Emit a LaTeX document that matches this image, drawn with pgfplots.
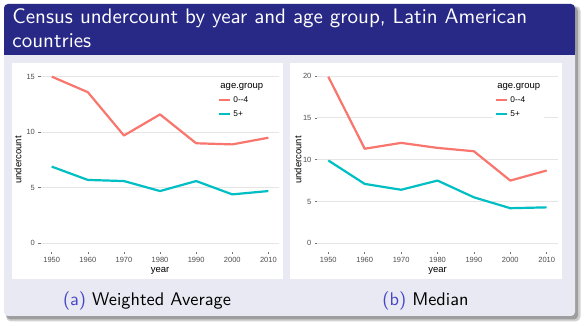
\documentclass[border=0pt]{standalone}
\usepackage{fontspec}
\usepackage{pgfplots}
\pgfplotsset{compat=1.18}
\newfontfamily\ggfont{Liberation Sans}
\newfontfamily\bsans{lmsans10-regular.otf}
\definecolor{titleblue}{RGB}{40,40,135}
\definecolor{bodybg}{RGB}{233,233,243}
\definecolor{capblue}{RGB}{70,70,200}
\definecolor{ggred}{HTML}{F8766D}
\definecolor{ggcyan}{HTML}{00BFC4}
\pgfplotsset{
  ggaxis/.style={
    scale only axis,
    axis lines*=left,
    axis line style={draw=none},
    xmin=1947, xmax=2013,
    xtick={1950,1960,1970,1980,1990,2000,2010},
    ymajorgrids,
    major grid style={color=black!10, line width=0.6pt},
    tick align=outside,
    major tick length=2.5pt,
    tick style={black!55, line width=0.5pt},
    ticklabel style={font=\ggfont\fontsize{7.5}{9}\selectfont, text=black!70},
    /pgf/number format/1000 sep={},
    /pgf/number format/assume math mode=true,
    xlabel={year}, ylabel={undercount},
    label style={font=\ggfont\fontsize{9.5}{11}\selectfont},
    x label style={at={(axis description cs:0.5,0)}, anchor=center, yshift=-19.5pt},
    legend cell align=left,
    legend image code/.code={\draw[#1] (0pt,0pt) -- (11pt,0pt);},
    legend style={draw=none, fill=white, inner sep=2pt, row sep=2.5pt,
      font=\ggfont\fontsize{8.3}{10}\selectfont, anchor=north west},
  },
  ggline/.style={line width=2.2pt, line join=round, mark=none},
}
\begin{document}
\begin{tikzpicture}[x=1pt,y=1pt]
\useasboundingbox (0,0) rectangle (584,326);
% shadow
\fill[black!18, rounded corners=5pt] (6,4.5) rectangle (580.5,320);
\fill[black!38, rounded corners=4pt] (6.5,6.5) rectangle (578,319);
% block body
\fill[bodybg, rounded corners=4pt] (4,10) rectangle (575,322);
% title bar
\fill[titleblue, rounded corners=4pt] (4,271) rectangle (575,322);
\fill[titleblue] (4,271) rectangle (575,278);
\node[anchor=base west, inner sep=0pt, text=white, font=\bsans\fontsize{21}{24}\selectfont] at (12.3,302) {Census undercount by year and age group, Latin American};
\node[anchor=base west, inner sep=0pt, text=white, font=\bsans\fontsize{21}{24}\selectfont] at (12.3,278) {countries};
% panels
\fill[white] (12,47) rectangle (283,262.5);
\fill[white] (290,47) rectangle (562,262.5);
% captions
\node[anchor=base, inner sep=0pt, font=\bsans\fontsize{18.3}{20}\selectfont] at (147,20) {\textcolor{capblue}{(a)} Weighted Average};
\node[anchor=base, inner sep=0pt, font=\bsans\fontsize{18.3}{20}\selectfont] at (425.5,20) {\textcolor{capblue}{(b)} Median};

% left axis: weighted average
\begin{axis}[ggaxis,
  at={(40.9pt,74.4pt)}, anchor=south west,
  width=238.3pt, height=183.3pt,
  ymin=-0.75, ymax=15.75,
  ytick={0,5,10,15},
  y label style={at={(axis description cs:-0.096,0.5)}, anchor=center},
  legend style={at={(axis description cs:0.735,0.94)}},
]
\addlegendimage{empty legend}
\addlegendentry[font=\ggfont\fontsize{9.5}{11}\selectfont]{\hspace*{-13pt}age.group}
\addplot[ggline, color=ggred] coordinates {(1950,15.0)(1960,13.6)(1970,9.7)(1980,11.6)(1990,9.0)(2000,8.9)(2010,9.5)};
\addlegendentry{0--4}
\addplot[ggline, color=ggcyan] coordinates {(1950,6.9)(1960,5.7)(1970,5.6)(1980,4.7)(1990,5.6)(2000,4.4)(2010,4.7)};
\addlegendentry{5+}
\end{axis}

% right axis: median
\begin{axis}[ggaxis,
  at={(317.4pt,74.3pt)}, anchor=south west,
  width=240.2pt, height=183.3pt,
  ymin=-0.995, ymax=20.895,
  ytick={0,5,10,15,20},
  y label style={at={(axis description cs:-0.081,0.5)}, anchor=center},
  legend style={at={(axis description cs:0.731,0.94)}},
]
\addlegendimage{empty legend}
\addlegendentry[font=\ggfont\fontsize{9.5}{11}\selectfont]{\hspace*{-13pt}age.group}
\addplot[ggline, color=ggred] coordinates {(1950,19.9)(1960,11.3)(1970,12.0)(1980,11.4)(1990,11.0)(2000,7.5)(2010,8.7)};
\addlegendentry{0--4}
\addplot[ggline, color=ggcyan] coordinates {(1950,9.9)(1960,7.1)(1970,6.4)(1980,7.5)(1990,5.5)(2000,4.2)(2010,4.3)};
\addlegendentry{5+}
\end{axis}
\end{tikzpicture}
\end{document}
